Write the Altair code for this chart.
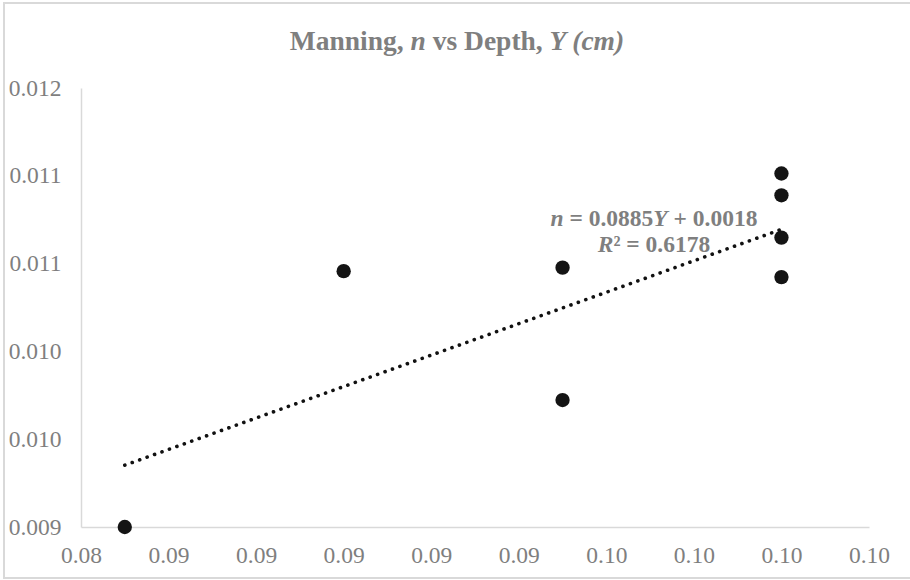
import altair as alt
import pandas as pd

# ---- data ----
depth = [0.085, 0.090, 0.095, 0.095, 0.100, 0.100, 0.100, 0.100]
manning = [0.00950, 0.010957, 0.010977, 0.010223, 0.011513, 0.011389, 0.011148, 0.010923]

# dotted linear trendline as drawn in the reference (end points)
trend_depth = [0.085, 0.100]
trend_manning = [0.009852, 0.011195]

x_ticks = [0.084, 0.086, 0.088, 0.090, 0.092, 0.094, 0.096, 0.098, 0.100, 0.102]
x_labels = ["0.08", "0.09", "0.09", "0.09", "0.09", "0.09", "0.10", "0.10", "0.10", "0.10"]
y_ticks = [0.0095, 0.0100, 0.0105, 0.0110, 0.0115, 0.0120]
y_labels = ["0.009", "0.010", "0.010", "0.011", "0.011", "0.012"]

title_parts = [("Manning, ", False), ("n", True), (" vs Depth, ", False), ("Y (cm)", True)]
eq_line1 = [("n", True), (" = 0.0885", False), ("Y", True), (" + 0.0018", False)]
eq_line2 = [("R", True), ("² = 0.6178", False)]

df = pd.DataFrame({"Depth": depth, "Manning": manning})
df_trend = pd.DataFrame({"Depth": trend_depth, "Manning": trend_manning})

# ---- layout ----
W, H = 788, 439
PAD_L, PAD_T = 81, 88
GREY = "#7f7f7f"
FONT = "Liberation Serif"

# Times/Liberation Serif bold advance widths (per 1000 em) for text placement
bold_w = {"M": 944, "a": 500, "n": 556, "i": 278, "g": 500, ",": 250, " ": 250, "v": 500,
          "s": 389, "D": 722, "e": 444, "p": 556, "t": 333, "h": 556, "=": 570, "+": 570,
          ".": 250, "²": 300}
boldit_w = {"n": 556, "Y": 611, " ": 250, "(": 333, "c": 444, "m": 778, ")": 333, "R": 667}


def text_width(s, italic, size):
    tbl = boldit_w if italic else bold_w
    return sum(tbl.get(ch, 500) for ch in s) * size / 1000.0


def text_run(parts, center_x, baseline_y, size):
    total = sum(text_width(s, it, size) for s, it in parts)
    x = center_x - total / 2.0
    layers = []
    for s, it in parts:
        lead = len(s) - len(s.lstrip(" "))
        core = s.strip(" ")
        x0 = x + text_width(" " * lead, it, size)
        layers.append(
            alt.Chart(pd.DataFrame({"t": [core]}))
            .mark_text(font=FONT, fontSize=size, fontWeight="bold",
                       fontStyle="italic" if it else "normal", color=GREY,
                       align="left", baseline="alphabetic")
            .encode(text="t:N", x=alt.value(x0 - PAD_L), y=alt.value(baseline_y - PAD_T))
        )
        x += text_width(s, it, size)
    return layers


x_expr = "[" + ",".join(f"'{l}'" for l in x_labels) + "][round(datum.index*" + str(len(x_labels) - 1) + ")]"
y_expr = "[" + ",".join(f"'{l}'" for l in y_labels) + "][round(datum.index*" + str(len(y_labels) - 1) + ")]"

x_enc = alt.X("Depth:Q",
              scale=alt.Scale(domain=[x_ticks[0], x_ticks[-1]], nice=False, zero=False),
              axis=alt.Axis(values=x_ticks, labelExpr=x_expr, title=None, grid=False, ticks=False,
                            domainColor="#d9d9d9", domainWidth=1.5, labelFont=FONT, labelFontSize=23.5,
                            labelColor=GREY, labelPadding=16, labelFlush=False, labelOverlap=False))
y_enc = alt.Y("Manning:Q",
              scale=alt.Scale(domain=[y_ticks[0], y_ticks[-1]], nice=False, zero=False),
              axis=alt.Axis(values=y_ticks, labelExpr=y_expr, title=None, grid=False, ticks=False,
                            domainColor="#d9d9d9", domainWidth=1.5, labelFont=FONT, labelFontSize=23.5,
                            labelColor=GREY, labelPadding=20, labelFlush=False, labelOverlap=False))

border = alt.Chart(pd.DataFrame({"a": [0]})).mark_rect(
    fill=None, stroke="#d9d9d9", strokeWidth=2, clip=False
).encode(x=alt.value(4 - PAD_L), x2=alt.value(914 - PAD_L),
         y=alt.value(3 - PAD_T), y2=alt.value(578 - PAD_T))

trend = alt.Chart(df_trend).mark_line(
    color="#111111", strokeWidth=3.6, strokeDash=[0.1, 7.8], strokeCap="round"
).encode(x=x_enc, y=y_enc)

points = alt.Chart(df).mark_circle(size=205, color="#141414", opacity=1).encode(x=x_enc, y=y_enc)

texts = (text_run(title_parts, 457.5, 50, 27.5)
         + text_run(eq_line1, 654, 226, 23.5)
         + text_run(eq_line2, 654, 252, 23.5))

chart = alt.layer(border, *texts, trend, points).properties(
    width=W, height=H,
    autosize=alt.AutoSizeParams(type="none"),
    padding={"left": PAD_L, "top": PAD_T, "right": 910 - PAD_L - W, "bottom": 580 - PAD_T - H},
    background="white",
).configure_view(stroke=None)

chart.save("out.html", embed_options={"renderer": "svg", "actions": False})
